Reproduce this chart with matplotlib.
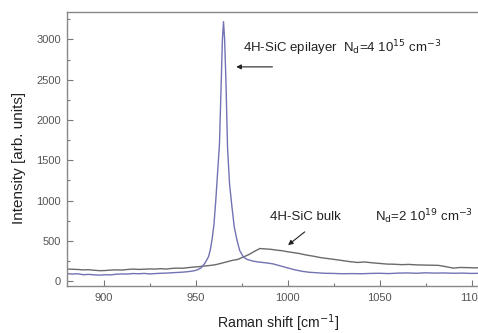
import matplotlib
matplotlib.use("Agg")
import matplotlib.pyplot as plt
from matplotlib.ticker import MultipleLocator

plt.rcParams['font.family'] = ['Liberation Sans', 'DejaVu Sans']

# Epilayer spectrum (Raman shift, intensity)
epi_x = [880, 883, 886, 889, 892, 895, 898, 901, 904, 907, 910, 913, 916, 919, 922, 925, 928, 931, 934, 937,
         940, 943, 946, 949, 951, 953, 955, 957, 958, 959, 960, 961, 962, 963, 964, 964.6, 965.2, 965.8, 966.5,
         967.4, 968.5, 969.8, 971, 972.5, 974, 976, 978, 981, 984, 988, 992, 996, 1000, 1004, 1008, 1012, 1016,
         1020, 1025, 1030, 1035, 1040, 1045, 1050, 1055, 1060, 1065, 1070, 1075, 1080, 1085, 1090, 1095, 1100,
         1105, 1110]
epi_y = [95, 88, 92, 80, 84, 78, 75, 80, 78, 86, 90, 88, 95, 92, 96, 90, 94, 98, 100, 104,
         108, 112, 118, 128, 140, 165, 220, 300, 385, 520, 700, 1000, 1350, 1700, 2500, 3000, 3220, 3000, 2500,
         1650, 1200, 920, 680, 510, 380, 300, 270, 250, 238, 228, 215, 190, 165, 140, 122, 110, 104,
         98, 96, 92, 94, 92, 96, 98, 94, 100, 102, 98, 104, 100, 102, 98, 100, 96,
         98, 100]

# Bulk spectrum
bulk_x = [880, 883, 886, 889, 892, 895, 898, 901, 904, 907, 910, 913, 916, 919, 922, 925, 928, 931, 934, 937,
          940, 943, 946, 949, 952, 955, 958, 961, 964, 967, 970, 973, 976, 979, 982, 985, 988, 991, 994, 997,
          1000, 1003, 1006, 1010, 1014, 1018, 1022, 1026, 1030, 1034, 1038, 1042, 1046, 1050, 1054, 1058, 1062,
          1066, 1070, 1074, 1078, 1082, 1086, 1090, 1094, 1098, 1102, 1106, 1110]
bulk_y = [150, 148, 145, 140, 142, 135, 130, 132, 138, 140, 138, 145, 150, 146, 148, 152, 150, 155, 150, 158,
          162, 160, 168, 175, 180, 188, 195, 205, 222, 240, 258, 270, 300, 330, 370, 405, 400, 395, 385, 378,
          365, 355, 345, 325, 310, 292, 280, 268, 255, 242, 232, 238, 228, 220, 212, 210, 205,
          208, 202, 200, 198, 196, 180, 162, 170, 168, 165, 170, 165]

fig = plt.figure(figsize=(4.78, 3.33), dpi=100)
ax = fig.add_axes([66.7 / 478, 47 / 333, (490 - 66.7) / 478, 274 / 333])

ax.plot(bulk_x, bulk_y, color='#6a6a6a', lw=1.0)
ax.plot(epi_x, epi_y, color='#7272b4', lw=1.0)

ax.set_xlim(880, 1110)
ax.set_ylim(-60, 3340)
ax.xaxis.set_major_locator(MultipleLocator(50))
ax.xaxis.set_minor_locator(MultipleLocator(25))
ax.yaxis.set_major_locator(MultipleLocator(500))
ax.yaxis.set_minor_locator(MultipleLocator(250))
ax.tick_params(which='both', direction='in', colors='#777777', labelcolor='#555555', labelsize=8)
ax.tick_params(which='major', length=4, width=0.8)
ax.tick_params(which='minor', length=2, width=0.8)
ax.tick_params(axis='x', pad=5)
ax.tick_params(axis='y', pad=4)
for s in ax.spines.values():
    s.set_color('#888888')
    s.set_linewidth(1.0)

ax.set_xlabel('Raman shift [cm$^{-1}$]', fontsize=10.2, color='#222222', labelpad=7)
ax.set_ylabel('Intensity [arb. units]', fontsize=11, color='#222222')
ax.yaxis.set_label_coords(-0.095, 0.467)

ax.text(976, 2890, '4H-SiC epilayer  N$_\\mathrm{d}$=4 10$^{15}$ cm$^{-3}$', fontsize=9.5, color='#222222', va='center')
ax.annotate('', xy=(970.6, 2659), xytext=(993.3, 2659),
            arrowprops=dict(arrowstyle='-|>', color='#222222', lw=0.8, mutation_scale=7))
ax.text(990.6, 798, '4H-SiC bulk', fontsize=9.5, color='#222222', va='center')
ax.text(1047.6, 798, 'N$_\\mathrm{d}$=2 10$^{19}$ cm$^{-3}$', fontsize=9.5, color='#222222', va='center')
ax.annotate('', xy=(999.1, 426), xytext=(1010.5, 633),
            arrowprops=dict(arrowstyle='-|>', color='#222222', lw=0.8, mutation_scale=7))

fig.savefig('out.png', dpi=100)
